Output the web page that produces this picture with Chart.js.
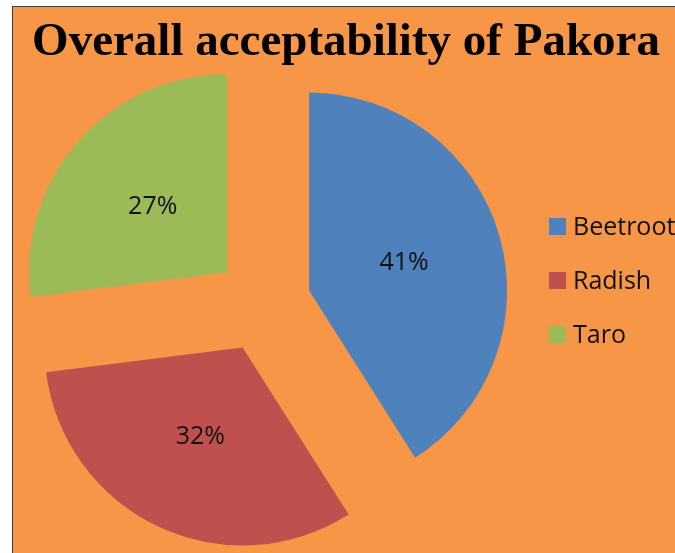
<!DOCTYPE html>
<html>
<head>
<meta charset="utf-8">
<title>Overall acceptability of Pakora</title>
<script src="https://cdn.jsdelivr.net/npm/chart.js@4/dist/chart.umd.min.js"></script>
<style>
  html, body { margin: 0; padding: 0; background: #fff; }
  body { width: 675px; height: 553px; overflow: hidden; position: relative; }
  #frame {
    position: absolute; left: 12px; top: 6px;
    width: 662px; height: 546px;
    border-left: 1px solid #3a3a3a; border-top: 1px solid #3a3a3a;
    background: #F79646;
  }
  #chartPakora { display: block; }
</style>
</head>
<body>
<div id="frame">
  <canvas id="chartPakora" width="662" height="546"></canvas>
</div>
<script>
// -------- DADOS --------
const titulo = "Overall acceptability of Pakora";
const categorias = ["Beetroot", "Radish", "Taro"];
const valores = [41, 32, 27];
const rotulos = ["41%", "32%", "27%"];
const cores = ["#4F81BD", "#C0504D", "#9BBB59"];

// -------- LAYOUT --------
const RAIO = 198;      // raio da pizza
const EXPLODE = 48;    // deslocamento das fatias
const FONTE = "'Open Sans', 'Noto Sans', sans-serif";

// fatias "explodidas": cada arco se desenha deslocado ao longo do seu meio
const explodePlugin = {
  id: "explode",
  beforeDatasetDraw(chart, args) {
    const ctx = chart.ctx;
    args.meta.data.forEach((arc) => {
      const mid = (arc.startAngle + arc.endAngle) / 2;
      ctx.save();
      ctx.translate(Math.cos(mid) * EXPLODE, Math.sin(mid) * EXPLODE);
      arc.draw(ctx);
      ctx.restore();
    });
    return false;
  }
};

// rótulos de porcentagem no meio de cada fatia
const rotulosPlugin = {
  id: "rotulos",
  afterDatasetsDraw(chart) {
    const ctx = chart.ctx;
    const meta = chart.getDatasetMeta(0);
    ctx.save();
    ctx.font = "25px " + FONTE;
    ctx.fillStyle = "#111";
    ctx.textAlign = "center";
    ctx.textBaseline = "middle";
    meta.data.forEach((arc, i) => {
      const mid = (arc.startAngle + arc.endAngle) / 2;
      const d = EXPLODE + arc.outerRadius / 2;
      ctx.fillText(rotulos[i], arc.x + Math.cos(mid) * d, arc.y + Math.sin(mid) * d);
    });
    ctx.restore();
  }
};

// título e legenda (no estilo do Excel)
const legendaPlugin = {
  id: "legenda",
  afterDraw(chart) {
    const ctx = chart.ctx;
    const ds = chart.data.datasets[0];
    ctx.save();

    // título
    ctx.font = "bold 47px 'Liberation Serif', 'Times New Roman', serif";
    ctx.fillStyle = "#000";
    ctx.textAlign = "center";
    ctx.textBaseline = "alphabetic";
    ctx.fillText(titulo, 333, 48);

    // legenda
    const x0 = 536, y0 = 211, caixa = 17, passo = 54;
    ctx.font = "25px " + FONTE;
    ctx.textAlign = "left";
    ctx.textBaseline = "middle";
    chart.data.labels.forEach((lab, i) => {
      const y = y0 + i * passo;
      ctx.fillStyle = ds.backgroundColor[i];
      ctx.fillRect(x0, y, caixa, caixa);
      ctx.fillStyle = "#111";
      ctx.fillText(lab, x0 + caixa + 7, y + caixa / 2 + 1);
    });
    ctx.restore();
  }
};

const ctx = document.getElementById("chartPakora").getContext("2d");
const chart = new Chart(ctx, {
  type: "pie",
  data: {
    labels: categorias,
    datasets: [
      {
        data: valores,
        backgroundColor: cores,
        borderWidth: 0,
        hoverOffset: 0,
        clip: false
      }
    ]
  },
  options: {
    responsive: false,
    animation: false,
    devicePixelRatio: 1,
    radius: RAIO,
    layout: { padding: { top: 48, right: 162, bottom: 0 } },
    events: [],
    plugins: {
      legend: { display: false },
      tooltip: { enabled: false },
      title: { display: false }
    }
  },
  plugins: [explodePlugin, rotulosPlugin, legendaPlugin]
});
</script>
</body>
</html>
